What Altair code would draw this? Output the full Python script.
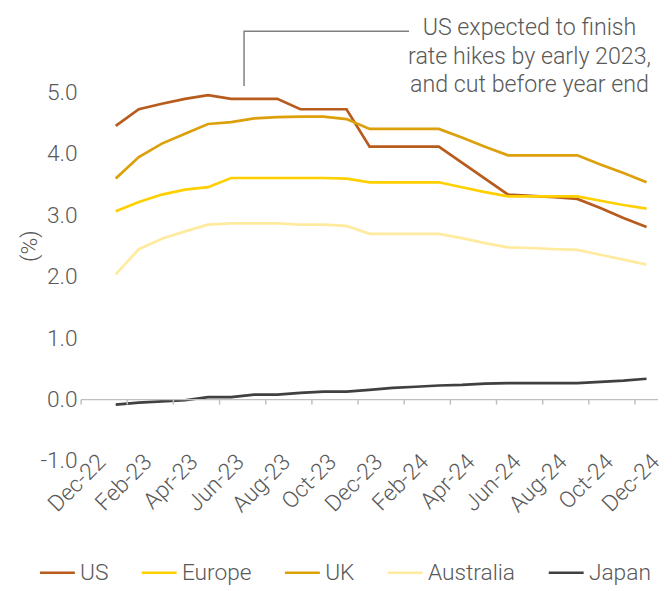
import json
import altair as alt
import pandas as pd

months = ["Dec-22", "Jan-23", "Feb-23", "Mar-23", "Apr-23", "May-23", "Jun-23",
          "Jul-23", "Aug-23", "Sep-23", "Oct-23", "Nov-23", "Dec-23", "Jan-24",
          "Feb-24", "Mar-24", "Apr-24", "May-24", "Jun-24", "Jul-24", "Aug-24",
          "Sep-24", "Oct-24", "Nov-24", "Dec-24"]

us = [None, 4.46, 4.73, 4.82, 4.90, 4.96, 4.90, 4.90, 4.90, 4.73, 4.73, 4.73,
      4.12, 4.12, 4.12, 4.12, 3.86, 3.60, 3.34, 3.32, 3.30, 3.27, 3.12, 2.96, 2.81]
europe = [None, 3.07, 3.22, 3.34, 3.42, 3.46, 3.61, 3.61, 3.61, 3.61, 3.61, 3.60,
          3.54, 3.54, 3.54, 3.54, 3.46, 3.38, 3.31, 3.31, 3.31, 3.31, 3.24, 3.17, 3.11]
uk = [None, 3.60, 3.95, 4.17, 4.33, 4.49, 4.52, 4.58, 4.60, 4.61, 4.61, 4.57,
      4.41, 4.41, 4.41, 4.41, 4.27, 4.12, 3.98, 3.98, 3.98, 3.98, 3.83, 3.69, 3.54]
australia = [None, 2.04, 2.45, 2.62, 2.74, 2.85, 2.87, 2.87, 2.87, 2.85, 2.85, 2.83,
             2.70, 2.70, 2.70, 2.70, 2.63, 2.55, 2.48, 2.47, 2.45, 2.44, 2.36, 2.28, 2.20]
japan = [None, -0.08, -0.05, -0.03, -0.01, 0.04, 0.04, 0.08, 0.08, 0.11, 0.13, 0.13,
         0.16, 0.19, 0.21, 0.23, 0.24, 0.26, 0.27, 0.27, 0.27, 0.27, 0.29, 0.31, 0.34]

countries = ["US", "Europe", "UK", "Australia", "Japan"]
colors = ["#B85C1E", "#FFD000", "#DCA00A", "#FFEBA0", "#404040"]
y_ticks = [-1, 0, 1, 2, 3, 4, 5]

annotation = ["US expected to finish", "rate hikes by early 2023,", "and cut before year end"]

rows = []
for name, vals in zip(countries, [us, europe, uk, australia, japan]):
    for i, v in enumerate(vals):
        if v is not None:
            rows.append({"idx": i, "month": months[i], "country": name, "value": v})
df = pd.DataFrame(rows)

FONT = "Roboto"
TXT = "#595959"
GRID = "#BFBFBF"

n = len(months)
label_idx = list(range(0, n, 2))
tick_pos = [i - 0.5 for i in label_idx]

X = alt.X("idx:Q",
          scale=alt.Scale(domain=[-0.5, n - 0.5], nice=False, zero=False),
          axis=alt.Axis(values=label_idx,
                        labelExpr=json.dumps(months) + "[datum.value]",
                        labelAngle=-45, labelAlign="right", labelBaseline="middle",
                        labelOffset=9, labelPadding=-3, ticks=False, domain=False,
                        grid=False, title=None, labelFontSize=23, labelColor=TXT,
                        labelFont=FONT, labelFontWeight=300, labelOverlap=False,
                        labelFlush=False))
Y = alt.Y("value:Q",
          scale=alt.Scale(domain=[-1, 6], nice=False, zero=False),
          axis=alt.Axis(values=y_ticks,
                        labelExpr="(datum.value < 0 ? '-' : '') + format(abs(datum.value), '.1f')",
                        ticks=False, domain=False,
                        grid=False, labelFontSize=23, labelColor=TXT, labelFont=FONT,
                        labelFontWeight=300, labelPadding=4, title="(%)",
                        titleFontSize=23, titleFont=FONT, titleFontWeight=300,
                        titleColor=TXT, titleX=-52, titleY=217, titleBaseline="middle"))

lines = alt.Chart(df).mark_line(strokeWidth=2.75).encode(
    x=X, y=Y,
    color=alt.Color("country:N", scale=alt.Scale(domain=countries, range=colors),
                    sort=countries,
                    legend=alt.Legend(orient="none", legendX=-43, legendY=529,
                                      direction="horizontal", title=None,
                                      symbolType="stroke", symbolSize=1250,
                                      symbolStrokeWidth=2.5, labelFontSize=23,
                                      labelFont=FONT, labelColor=TXT,
                                      labelFontWeight=300, columnPadding=28,
                                      labelOffset=4)),
    detail="country:N",
)

zero_rule = alt.Chart(pd.DataFrame({"value": [0]})).mark_rule(
    color=GRID, strokeWidth=1.5).encode(y=Y)

ticks = alt.Chart(pd.DataFrame({"idx": tick_pos, "value": [0] * len(tick_pos)})).mark_rule(
    color=GRID, strokeWidth=1.5, y2Offset=5).encode(
    x=X, y=Y, y2=alt.Y2("value:Q"))

bracket_df = pd.DataFrame({"idx": [6.56, 6.56, 13.71], "value": [5.11, 6.0, 6.0], "o": [0, 1, 2]})
bracket = alt.Chart(bracket_df).mark_line(color="#808080", strokeWidth=1.5).encode(
    x=X, y=Y, order="o:Q")

note = alt.Chart(pd.DataFrame({"idx": [18.93], "value": [6.045]})).mark_text(
    text=annotation, align="center", baseline="middle", lineHeight=28.5,
    fontSize=23.5, font=FONT, fontWeight=300, color=TXT).encode(x=X, y=Y)

chart = alt.layer(lines, zero_rule, ticks, bracket, note).properties(
    width=584, height=435,
    padding={"left": 74, "top": 20, "right": 6, "bottom": 127},
    autosize=alt.AutoSizeParams(type="none"),
).configure_view(stroke=None)

chart.save("out.html", embed_options={"renderer": "svg", "actions": False})
